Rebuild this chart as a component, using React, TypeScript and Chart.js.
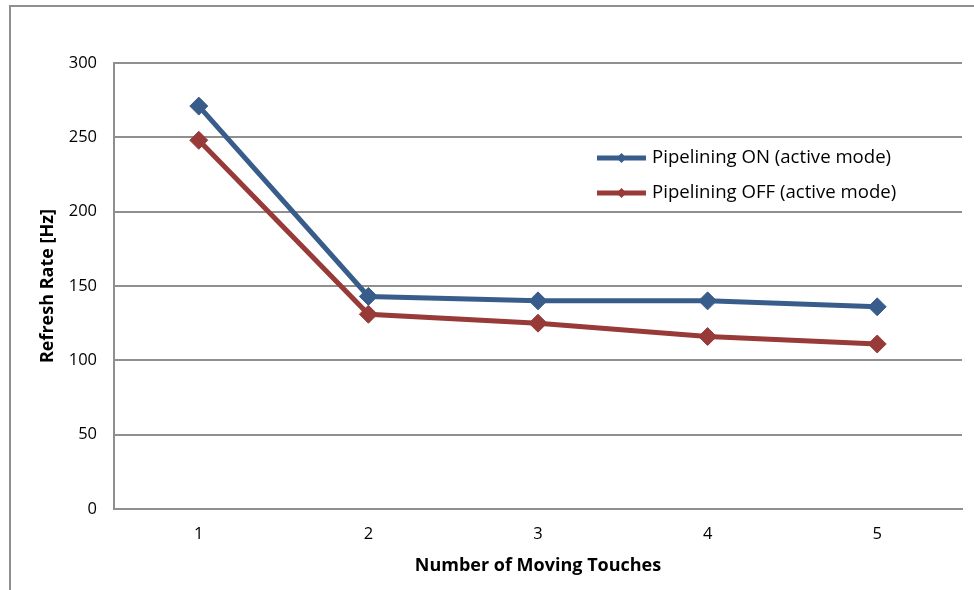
import React, { useEffect, useRef } from "react";
import { Chart, registerables } from "chart.js";

Chart.register(...registerables);

const categories = ["1", "2", "3", "4", "5"];
const pipeliningOn = [271, 143, 140, 140, 136];
const pipeliningOff = [248, 131, 125, 116, 111];
const seriesNames = ["Pipelining ON (active mode)", "Pipelining OFF (active mode)"];
const seriesColors = ["#395D8B", "#973A38"];
const yTitle = "Refresh Rate [Hz]";
const xTitle = "Number of Moving Touches";

const FONT = "'Open Sans', 'Noto Sans', sans-serif";
const GRID = "#8f8f8f";

const framePlugin = {
  id: "frame",
  beforeDraw(chart: any) {
    const ctx = chart.ctx;
    ctx.save();
    ctx.strokeStyle = GRID;
    ctx.lineWidth = 2;
    ctx.beginPath();
    ctx.moveTo(10, 600);
    ctx.lineTo(10, 6);
    ctx.lineTo(980, 6);
    ctx.stroke();
    ctx.restore();
  },
  afterDraw(chart: any) {
    const ctx = chart.ctx;
    const area = chart.chartArea;
    const x0 = area.left + 483;
    const x1 = area.left + 532;
    const ys = [area.top + 95, area.top + 130];
    ctx.save();
    chart.data.datasets.forEach((ds: any, i: number) => {
      const y = ys[i];
      ctx.strokeStyle = ds.borderColor;
      ctx.lineWidth = 5;
      ctx.beginPath();
      ctx.moveTo(x0, y);
      ctx.lineTo(x1, y);
      ctx.stroke();
      const cx = (x0 + x1) / 2;
      const r = 5;
      ctx.fillStyle = ds.borderColor;
      ctx.beginPath();
      ctx.moveTo(cx, y - r);
      ctx.lineTo(cx + r, y);
      ctx.lineTo(cx, y + r);
      ctx.lineTo(cx - r, y);
      ctx.closePath();
      ctx.fill();
      ctx.fillStyle = "#000";
      ctx.font = `18.6px ${FONT}`;
      ctx.textBaseline = "middle";
      ctx.textAlign = "left";
      ctx.fillText(ds.label, x1 + 6, y);
    });
    ctx.restore();
  },
};

export default function App() {
  const ref = useRef<HTMLCanvasElement | null>(null);
  useEffect(() => {
    if (!ref.current) return;
    const chart = new Chart(ref.current, {
      type: "line",
      data: {
        labels: categories,
        datasets: [pipeliningOn, pipeliningOff].map((vals, i) => ({
          label: seriesNames[i],
          data: vals,
          borderColor: seriesColors[i],
          backgroundColor: seriesColors[i],
          borderWidth: 5,
          tension: 0,
          pointStyle: "rectRot",
          pointRadius: 9,
          pointBorderWidth: 1,
          pointBackgroundColor: seriesColors[i],
          pointBorderColor: seriesColors[i],
          fill: false,
        })),
      },
      options: {
        animation: false,
        responsive: false,
        devicePixelRatio: 1,
        layout: { padding: { left: 0, top: 63, right: 12, bottom: 0 } },
        plugins: {
          legend: { display: false },
          tooltip: { enabled: false },
        },
        scales: {
          x: {
            type: "category",
            offset: true,
            grid: { display: false, drawTicks: false },
            border: { display: true, color: GRID, width: 2 },
            ticks: { color: "#000", font: { family: FONT, size: 16.5 }, padding: 15 },
            title: {
              display: true,
              text: xTitle,
              color: "#000",
              font: { family: FONT, size: 18, weight: "bold" },
              padding: { top: 0, bottom: 13 },
            },
            afterFit(scale: any) {
              scale.height = 81;
            },
          },
          y: {
            min: 0,
            max: 300,
            ticks: { stepSize: 50, color: "#000", font: { family: FONT, size: 16.5 }, padding: 17 },
            grid: { color: GRID, lineWidth: 2, drawTicks: false },
            border: { display: true, color: GRID, width: 2 },
            title: {
              display: true,
              text: yTitle,
              color: "#000",
              font: { family: FONT, size: 18, weight: "bold" },
              padding: { top: 37, bottom: 0 },
            },
            afterFit(scale: any) {
              scale.width = 114;
            },
          },
        },
      },
      plugins: [framePlugin],
    } as any);
    return () => chart.destroy();
  }, []);
  return (
    <div style={{ position: "fixed", left: 0, top: 0, width: 974, height: 590, background: "#fff" }}>
      <canvas ref={ref} width={974} height={590} style={{ width: 974, height: 590, display: "block" }} />
    </div>
  );
}
